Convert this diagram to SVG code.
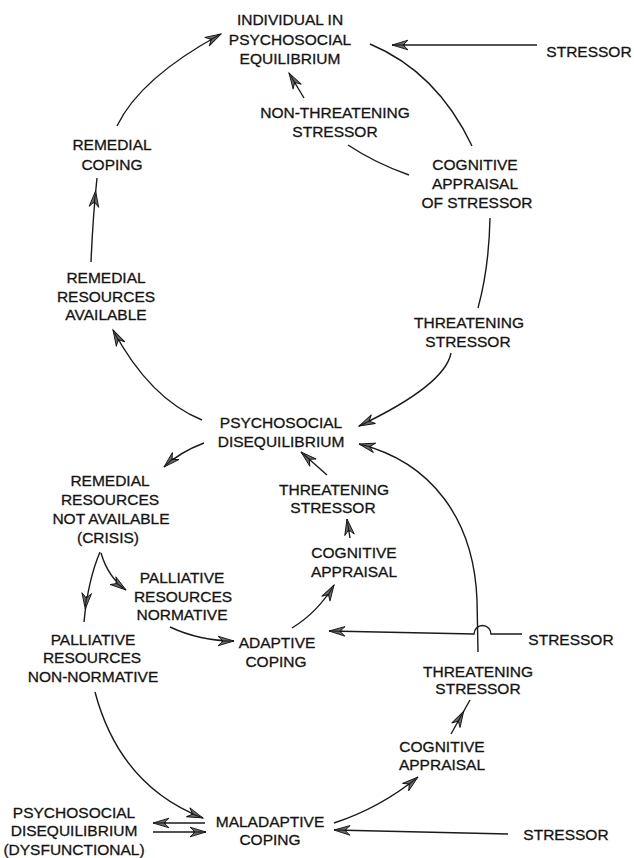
<svg xmlns="http://www.w3.org/2000/svg" width="634" height="858" viewBox="0 0 634 858">
<style>
.t{font-family:"Liberation Sans",Arial,Helvetica,sans-serif;font-size:15.5px;fill:#141414;stroke:#141414;stroke-width:0.3;text-anchor:middle}
.c{fill:none;stroke:#1a1a1a;stroke-width:1.4}
.a{marker-end:url(#ah)}
.b{marker-end:url(#ahb)}
.h{fill:#6a6a6a;stroke:#111;stroke-width:0.9;stroke-linejoin:miter}
</style>
<defs>
<marker id="ah" markerUnits="userSpaceOnUse" orient="auto" overflow="visible" markerWidth="1" markerHeight="1" refX="0" refY="0">
<path class="h" d="M0,0 L-16,-4.8 L-11,0 L-16,4.8 Z"/>
<path d="M-13,0 L-3,0" stroke="#111" stroke-width="1"/>
</marker>
<marker id="ahb" markerUnits="userSpaceOnUse" orient="auto" overflow="visible" markerWidth="1" markerHeight="1" refX="13" refY="0">
<path class="h" d="M0,0 L-16,-4.8 L-11,0 L-16,4.8 Z"/>
<path d="M-13,0 L-3,0" stroke="#111" stroke-width="1"/>
</marker>
</defs>
<rect width="634" height="858" fill="#ffffff"/>

<g id="connectors">
<path class="c a" d="M537 45 L392 45"/>
<path class="c a" d="M117 126 Q140 78 221 34"/>
<path class="c" d="M370 44 Q437 72 472 146"/>
<path class="c a" d="M304 98 L289 73"/>
<path class="c" d="M409 175 Q375 163 348 145"/>
<path class="c b" d="M91 262 Q93 215 97 178"/>
<path class="c" d="M490 218 Q489 268 478 308"/>
<path class="c a" d="M451 353 Q445 385 359 426"/>
<path class="c a" d="M202 420 Q150 399 113 330"/>
<path class="c a" d="M204 443 Q180 452 164 467"/>
<path class="c a" d="M327 475 L301 452"/>
<path class="c a" d="M350 538 L347 519"/>
<path class="c a" d="M292 628 Q318 612 334 585"/>
<path class="c a" d="M522 634 L491 634 A8.5 8.5 0 0 0 474 634 L329 631"/>
<path class="c a" d="M478 652 L477 600 C474 520 432 462 359 444"/>
<path class="c b" d="M100 552 Q88 580 84 622"/>
<path class="c a" d="M101 553 Q108 577 126 590"/>
<path class="c a" d="M170 627 Q200 641 234 641"/>
<path class="c a" d="M95 692 Q120 786 203 818"/>
<path class="c a" d="M205 823 L153 823"/>
<path class="c a" d="M153 832 L206 832"/>
<path class="c a" d="M334 823 Q380 808 418 777"/>
<path class="c b" d="M451 734 L470 700"/>
<path class="c a" d="M508 834 L334 830"/>
</g>

<g id="n_equilibrium"><text class="t"><tspan x="290" y="25">INDIVIDUAL IN</tspan><tspan x="290" y="45">PSYCHOSOCIAL</tspan><tspan x="290" y="64">EQUILIBRIUM</tspan></text></g>
<g id="n_stressor_top"><text class="t" x="589" y="57">STRESSOR</text></g>
<g id="n_nonthreatening"><text class="t"><tspan x="335" y="118">NON-THREATENING</tspan><tspan x="335" y="137">STRESSOR</tspan></text></g>
<g id="n_remedial_coping"><text class="t"><tspan x="112" y="150">REMEDIAL</tspan><tspan x="112" y="170">COPING</tspan></text></g>
<g id="n_cognitive_top"><text class="t"><tspan x="475" y="170">COGNITIVE</tspan><tspan x="475" y="189">APPRAISAL</tspan><tspan x="477" y="208">OF STRESSOR</tspan></text></g>
<g id="n_remedial_available"><text class="t"><tspan x="106" y="283">REMEDIAL</tspan><tspan x="106" y="302">RESOURCES</tspan><tspan x="106" y="320">AVAILABLE</tspan></text></g>
<g id="n_threatening_top"><text class="t"><tspan x="469" y="328">THREATENING</tspan><tspan x="468" y="347">STRESSOR</tspan></text></g>
<g id="n_disequilibrium"><text class="t"><tspan x="281" y="428">PSYCHOSOCIAL</tspan><tspan x="281" y="447">DISEQUILIBRIUM</tspan></text></g>
<g id="n_remedial_not_available"><text class="t"><tspan x="110" y="486">REMEDIAL</tspan><tspan x="110" y="505">RESOURCES</tspan><tspan x="111" y="524">NOT AVAILABLE</tspan><tspan x="108" y="543">(CRISIS)</tspan></text></g>
<g id="n_threatening_mid"><text class="t"><tspan x="334" y="495">THREATENING</tspan><tspan x="333" y="513">STRESSOR</tspan></text></g>
<g id="n_cognitive_mid"><text class="t"><tspan x="354" y="558">COGNITIVE</tspan><tspan x="354" y="577">APPRAISAL</tspan></text></g>
<g id="n_palliative_normative"><text class="t"><tspan x="182" y="583">PALLIATIVE</tspan><tspan x="183" y="602">RESOURCES</tspan><tspan x="182" y="620">NORMATIVE</tspan></text></g>
<g id="n_adaptive"><text class="t"><tspan x="277" y="648">ADAPTIVE</tspan><tspan x="276" y="667">COPING</tspan></text></g>
<g id="n_stressor_mid"><text class="t" x="571" y="645">STRESSOR</text></g>
<g id="n_palliative_nonnormative"><text class="t"><tspan x="93" y="645">PALLIATIVE</tspan><tspan x="92" y="663">RESOURCES</tspan><tspan x="93" y="682">NON-NORMATIVE</tspan></text></g>
<g id="n_threatening_low"><text class="t"><tspan x="478" y="677">THREATENING</tspan><tspan x="478" y="694">STRESSOR</tspan></text></g>
<g id="n_cognitive_low"><text class="t"><tspan x="442" y="752">COGNITIVE</tspan><tspan x="442" y="770">APPRAISAL</tspan></text></g>
<g id="n_dysfunctional"><text class="t"><tspan x="74" y="818">PSYCHOSOCIAL</tspan><tspan x="74" y="836">DISEQUILIBRIUM</tspan><tspan x="74" y="855">(DYSFUNCTIONAL)</tspan></text></g>
<g id="n_maladaptive"><text class="t"><tspan x="270" y="827">MALADAPTIVE</tspan><tspan x="270" y="845">COPING</tspan></text></g>
<g id="n_stressor_low"><text class="t" x="566" y="840">STRESSOR</text></g>
</svg>
